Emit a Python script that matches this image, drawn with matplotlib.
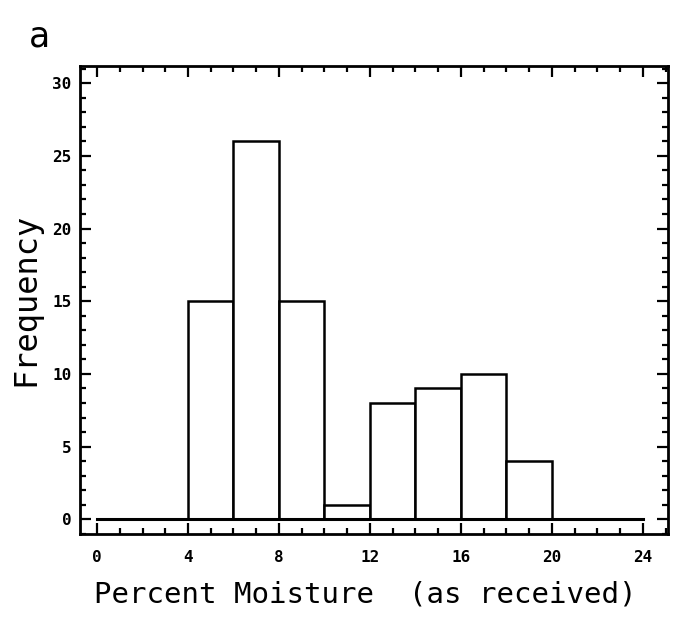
import matplotlib
matplotlib.use("Agg")
import matplotlib.pyplot as plt
from matplotlib.ticker import MultipleLocator

bin_edges = [4, 6, 8, 10, 12, 14, 16, 18, 20]
frequencies = [15, 26, 15, 1, 8, 9, 10, 4]
baseline_x = [0, 24]
xticks = [0, 4, 8, 12, 16, 20, 24]
yticks = [0, 5, 10, 15, 20, 25, 30]

fig = plt.figure(figsize=(6.78, 6.2), dpi=100)
ax = fig.add_axes([0.118, 0.139, 0.867, 0.755])

lefts = bin_edges[:-1]
widths = [b - a for a, b in zip(bin_edges[:-1], bin_edges[1:])]
ax.bar(lefts, frequencies, width=widths, align="edge", facecolor="white",
       edgecolor="black", linewidth=1.8, zorder=2)
ax.plot(baseline_x, [0, 0], color="black", linewidth=2.2, zorder=3)

ax.set_xlim(-0.75, 25.1)
ax.set_ylim(-1.0, 31.2)
ax.set_xticks(xticks)
ax.set_yticks(yticks)
ax.xaxis.set_minor_locator(MultipleLocator(1))
ax.yaxis.set_minor_locator(MultipleLocator(1))
ax.tick_params(which="both", direction="in", top=True, right=True,
               width=1.6, color="black")
ax.tick_params(which="major", length=8)
ax.tick_params(which="minor", length=4)
ax.tick_params(labeltop=False, labelright=False)
for lbl in ax.get_xticklabels() + ax.get_yticklabels():
    lbl.set_fontweight("bold")
    lbl.set_fontsize(11.5)
    lbl.set_family("DejaVu Sans Mono")
ax.tick_params(axis="x", pad=12)
ax.tick_params(axis="y", pad=6)

for s in ax.spines.values():
    s.set_linewidth(2)

ax.set_xlabel("Percent Moisture  (as received)", family="DejaVu Sans Mono",
              fontsize=21, labelpad=6)
ax.xaxis.set_label_coords(0.485, -0.1)
ax.set_ylabel("Frequency", family="DejaVu Sans Mono", fontsize=23, labelpad=8)
fig.text(0.042, 0.925, "a", fontsize=25, family="DejaVu Sans")

fig.savefig("out.png", dpi=100, facecolor="white")
